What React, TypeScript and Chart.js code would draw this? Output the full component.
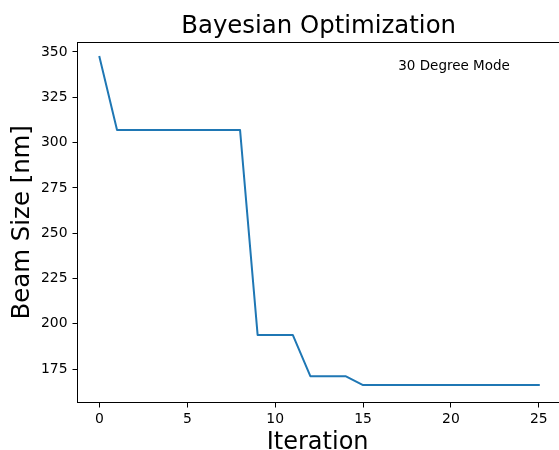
import React, { useEffect, useRef } from "react";
import { Chart, registerables } from "chart.js";

Chart.register(...registerables);

const iterations = [0, 1, 2, 3, 4, 5, 6, 7, 8, 9, 10, 11, 12, 13, 14, 15, 16, 17, 18, 19, 20, 21, 22, 23, 24, 25];
const beamSize = [347.2, 307, 307, 307, 307, 307, 307, 307, 307, 193.9, 193.9, 193.9, 171.1, 171.1, 171.1, 166.2, 166.2, 166.2, 166.2, 166.2, 166.2, 166.2, 166.2, 166.2, 166.2, 166.2];
const xTicks = [0, 5, 10, 15, 20, 25];
const yTicks = [175, 200, 225, 250, 275, 300, 325, 350];
const titleText = "Bayesian Optimization";
const xLabel = "Iteration";
const yLabel = "Beam Size [nm]";
const annotation = { x: 17, y: 340, text: "30 Degree Mode" };

const FONT = "'DejaVu Sans', sans-serif";

export default function App() {
  const ref = useRef<HTMLCanvasElement | null>(null);

  useEffect(() => {
    if (!ref.current) return;
    const textPlugin = {
      id: "mplText",
      afterDraw(chart: any) {
        const ctx = chart.ctx;
        const ca = chart.chartArea;
        const xs = chart.scales.x;
        const ys = chart.scales.y;
        ctx.save();
        // top spine
        ctx.strokeStyle = "#000";
        ctx.lineWidth = 1;
        ctx.beginPath();
        ctx.moveTo(ca.left, ca.top + 0.5);
        ctx.lineTo(ca.right, ca.top + 0.5);
        ctx.stroke();
        ctx.fillStyle = "#000";
        // title
        const axesCenter = (ca.left + xs.getPixelForValue(26.25)) / 2;
        ctx.font = `24.4px ${FONT}`;
        ctx.textAlign = "center";
        ctx.textBaseline = "alphabetic";
        ctx.fillText(titleText, axesCenter - 0.5, 32.7);
        // x label
        ctx.font = `24px ${FONT}`;
        ctx.fillText(xLabel, axesCenter - 1.5, 449.3);
        // y label
        ctx.save();
        ctx.font = `24.4px ${FONT}`;
        ctx.translate(28.5, (ca.top + ca.bottom) / 2);
        ctx.rotate(-Math.PI / 2);
        ctx.fillText(yLabel, 0, 0);
        ctx.restore();
        // annotation
        ctx.font = `13.5px ${FONT}`;
        ctx.textAlign = "left";
        ctx.fillText(annotation.text, xs.getPixelForValue(annotation.x), ys.getPixelForValue(annotation.y));
        ctx.restore();
      },
    };

    const chart = new Chart(ref.current, {
      type: "line",
      data: {
        datasets: [
          {
            data: iterations.map((x, i) => ({ x, y: beamSize[i] })),
            borderColor: "#1f77b4",
            borderWidth: 2,
            pointRadius: 0,
            tension: 0,
            fill: false,
            borderCapStyle: "square",
            borderJoinStyle: "round",
          },
        ],
      },
      options: {
        animation: false,
        responsive: false,
        layout: { padding: { top: 42, left: 0, right: 0, bottom: 0 } },
        plugins: { legend: { display: false }, title: { display: false }, tooltip: { enabled: false } },
        scales: {
          x: {
            type: "linear",
            min: -1.25,
            max: 26.15,
            afterBuildTicks: (s: any) => {
              s.ticks = xTicks.map((v) => ({ value: v }));
            },
            afterFit: (s: any) => {
              s.height = 47.5;
            },
            grid: { drawOnChartArea: false, drawTicks: true, tickLength: 5, color: "#000", lineWidth: 1 },
            border: { display: true, color: "#000", width: 1 },
            ticks: { color: "#000", font: { family: FONT, size: 13.9 }, padding: 4, maxRotation: 0, autoSkip: false },
          },
          y: {
            type: "linear",
            min: 156.6,
            max: 355.5,
            afterBuildTicks: (s: any) => {
              s.ticks = yTicks.map((v) => ({ value: v }));
            },
            afterFit: (s: any) => {
              s.width = 77.5;
            },
            grid: { drawOnChartArea: false, drawTicks: true, tickLength: 5, color: "#000", lineWidth: 1 },
            border: { display: true, color: "#000", width: 1 },
            ticks: { color: "#000", font: { family: FONT, size: 13.9 }, padding: 5, autoSkip: false },
          },
        },
      },
      plugins: [textPlugin],
    } as any);
    return () => chart.destroy();
  }, []);

  return (
    <div style={{ position: "fixed", left: 0, top: 0, width: 559, height: 450, background: "#fff" }}>
      <canvas ref={ref} width={559} height={450} style={{ display: "block" }} />
    </div>
  );
}
